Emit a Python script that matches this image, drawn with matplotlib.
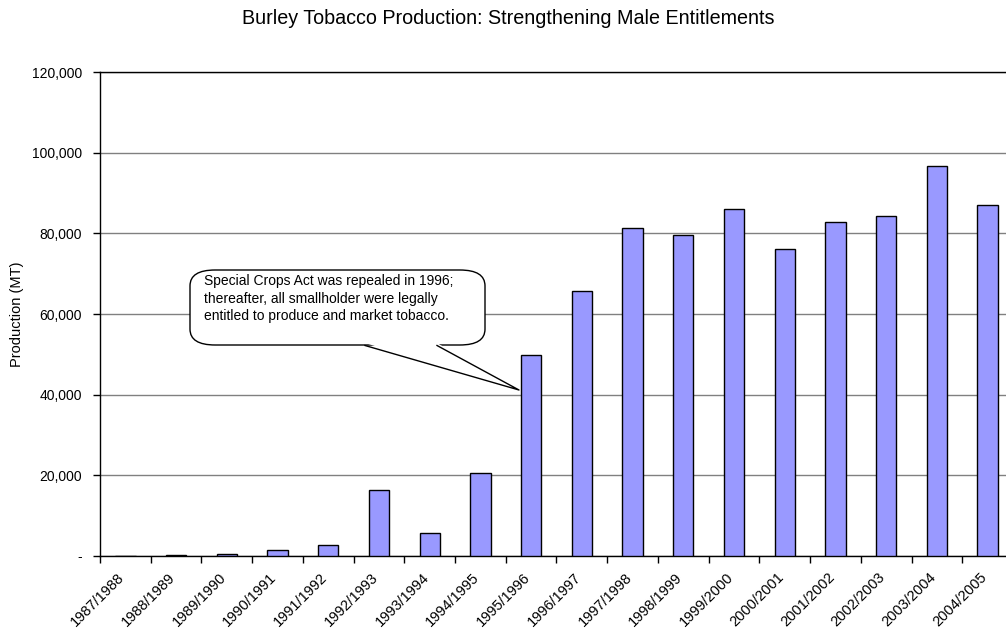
import matplotlib
matplotlib.use('Agg')
import matplotlib.pyplot as plt
import matplotlib.transforms as mtransforms
from matplotlib.patches import FancyBboxPatch, Polygon
from matplotlib.lines import Line2D
import numpy as np

plt.rcParams['font.family'] = ['Liberation Sans', 'DejaVu Sans']

seasons = ['1987/1988', '1988/1989', '1989/1990', '1990/1991', '1991/1992',
           '1992/1993', '1993/1994', '1994/1995', '1995/1996', '1996/1997',
           '1997/1998', '1998/1999', '1999/2000', '2000/2001', '2001/2002',
           '2002/2003', '2003/2004', '2004/2005']
production = [100, 300, 400, 1500, 2700, 16400, 5700, 20600, 49800, 65800,
              81200, 79500, 86000, 76200, 82800, 84300, 96700, 87000]
yticks = [0, 20000, 40000, 60000, 80000, 100000, 120000]
ytick_labels = ['-', '20,000', '40,000', '60,000', '80,000', '100,000', '120,000']
note = ('Special Crops Act was repealed in 1996;\n'
        'thereafter, all smallholder were legally\n'
        'entitled to produce and market tobacco.')

W, H = 1006, 633
fig = plt.figure(figsize=(W / 100, H / 100), dpi=100)

def fx(px):
    return px / W

def fy(py):
    return 1 - py / H

ax = fig.add_axes([fx(100), fy(556), (1013 - 100) / W, (556 - 72) / H])

x = np.arange(len(seasons))
ax.bar(x, production, width=0.4, color='#9999FF', edgecolor='black', linewidth=1, zorder=3)

ax.set_xlim(-0.5, len(seasons) - 0.5)
ax.set_ylim(0, 120000)
ax.set_yticks(yticks)
ax.set_yticklabels(ytick_labels, fontsize=10)
ax.yaxis.grid(True, color='#808080', linewidth=1, zorder=0)
ax.set_axisbelow(True)

# category boundaries get the ticks, category centres get the labels
ax.set_xticks(np.arange(len(seasons) + 1) - 0.5)
ax.set_xticklabels([])
ax.set_xticks(x, minor=True)
ax.set_xticklabels(seasons, minor=True, rotation=45, ha='right', va='top',
                   rotation_mode='anchor', fontsize=10.5)
ax.tick_params(axis='x', which='minor', length=0, pad=10)
ax.tick_params(axis='both', which='major', direction='out', length=5, width=1)
ax.tick_params(axis='y', which='major', pad=8)
shift = mtransforms.ScaledTranslation(-8 / 100, 0, fig.dpi_scale_trans)
for lbl in ax.get_xticklabels(minor=True):
    lbl.set_transform(lbl.get_transform() + shift)

ax.spines['right'].set_visible(False)
for s in ['left', 'bottom', 'top']:
    ax.spines[s].set_color('black')
    ax.spines[s].set_linewidth(1)

fig.text(fx(17), fy(314), 'Production (MT)', rotation=90, ha='center', va='center',
         fontsize=10.5)

fig.text(fx(508), fy(18), 'Burley Tobacco Production: Strengthening Male Entitlements',
         ha='center', va='center', fontsize=14.2)

# callout bubble
box = FancyBboxPatch((fx(190), fy(345)), fx(485) - fx(190), fy(270) - fy(345),
                     boxstyle='round,pad=0,rounding_size=0.025', transform=fig.transFigure,
                     facecolor='white', edgecolor='black', linewidth=1, zorder=5)
fig.add_artist(box)
tail = Polygon([(fx(365), fy(343)), (fx(437), fy(343)), (fx(519), fy(390))],
               closed=True, transform=fig.transFigure, facecolor='white',
               edgecolor='none', zorder=6)
fig.add_artist(tail)
fig.add_artist(Line2D([fx(365), fx(519), fx(437)], [fy(345.5), fy(390), fy(345.5)],
                      transform=fig.transFigure, color='black', linewidth=1, zorder=7))
fig.text(fx(204), fy(274), note, ha='left', va='top', fontsize=10,
         linespacing=1.32, zorder=8)

fig.savefig('out.png', dpi=100)
